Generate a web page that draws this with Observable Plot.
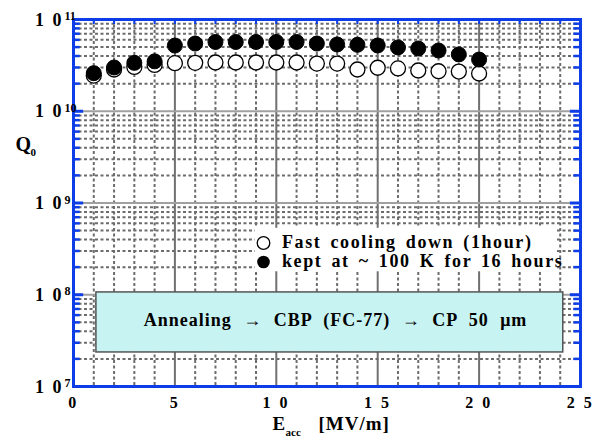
<!DOCTYPE html>
<html>
<head>
<meta charset="utf-8">
<script src="https://cdn.jsdelivr.net/npm/d3@7"></script>
<script src="https://cdn.jsdelivr.net/npm/@observablehq/plot@0.6"></script>
<style>
  html, body { margin: 0; padding: 0; background: #fff; }
  #chart svg { display: block; }
  #chart svg text { font-family: "Liberation Serif", "Times New Roman", "DejaVu Serif", serif !important; font-weight: bold; }
</style>
</head>
<body>
<div id="chart"></div>
<script>
// ---- data ----
const fieldMVm = [1, 2, 3, 4, 5, 6, 7, 8, 9, 10, 11, 12, 13, 14, 15, 16, 17, 18, 19, 20];
const q0FastCooling = [2.45e10, 2.85e10, 3.04e10, 3.2e10, 3.34e10, 3.37e10, 3.4e10, 3.4e10, 3.4e10, 3.4e10,
                       3.4e10, 3.31e10, 3.31e10, 2.85e10, 2.98e10, 2.93e10, 2.78e10, 2.73e10, 2.71e10, 2.58e10];
const q0Kept100K = [2.6e10, 3.0e10, 3.37e10, 3.5e10, 5.2e10, 5.47e10, 5.69e10, 5.69e10, 5.69e10, 5.69e10,
                    5.69e10, 5.47e10, 5.34e10, 5.3e10, 5.21e10, 4.96e10, 4.83e10, 4.59e10, 4.16e10, 3.66e10];
const seriesLabels = ["Fast cooling down (1hour)", "kept at ~ 100 K for 16 hours"];
const xTickValues = [0, 5, 10, 15, 20, 25];
const xTickLabels = ["0", "5", "1 0", "1 5", "2 0", "2 5"];
const xMinorValues = d3.range(1, 25).filter(v => v % 5 !== 0);
const yTickValues = [1e7, 1e8, 1e9, 1e10, 1e11];
const yTickExponents = ["7", "8", "9", "10", "11"];
const yMinorValues = [7, 8, 9, 10].flatMap(e => d3.range(2, 10).map(k => k * 10 ** e));
const annotationText = "Annealing \u2192 CBP (FC-77) \u2192 CP 50 \u03bcm";
const legendBox = {x1: 8.97, x2: 23.85, y1: 1.78e8, y2: 5.3e8};
const noteBox = {x1: 1.13, x2: 24.15, y1: 2.35e7, y2: 1.06e8};

// ---- table ----
const fast = fieldMVm.map((x, i) => ({x, q: q0FastCooling[i]}));
const kept = fieldMVm.map((x, i) => ({x, q: q0Kept100K[i]}));

const BLUE = "#0c3de6";
const FONT = "Liberation Serif";
const txt = {fontFamily: FONT, fontWeight: "bold", fill: "#000"};

const chart = Plot.plot({
  width: 605,
  height: 437,
  marginLeft: 73,
  marginRight: 25,
  marginTop: 19,
  marginBottom: 51,
  style: {fontFamily: FONT, background: "#fff", overflow: "visible"},
  x: {domain: [0, 25], axis: null},
  y: {type: "log", domain: [1e7, 1e11], axis: null},
  marks: [
    // minor grid
    Plot.ruleX(xMinorValues, {x: d => d, stroke: "#6c6c6c", strokeWidth: 2, strokeDasharray: "3,2.5"}),
    Plot.ruleY(yMinorValues, {y: d => d, stroke: "#6c6c6c", strokeWidth: 2, strokeDasharray: "3,2.5"}),
    // major grid
    Plot.ruleX([5, 10, 15, 20], {x: d => d, stroke: "#707070", strokeWidth: 2}),
    Plot.ruleY([1e8, 1e9, 1e10], {y: d => d, stroke: "#a0a0a0", strokeWidth: 2}),
    // legend background
    Plot.rect([legendBox], {x1: "x1", x2: "x2", y1: "y1", y2: "y2", fill: "#fff"}),
    // annotation box
    Plot.rect([noteBox], {x1: "x1", x2: "x2", y1: "y1", y2: "y2", fill: "#c8f3f3", stroke: "#555", strokeWidth: 1.5}),
    Plot.text([annotationText], {text: d => d, frameAnchor: "top-left", dx: 262, dy: 306, lineAnchor: "bottom",
      textAnchor: "middle", fontSize: 18, className: "note", ...txt}),
    // inward ticks (left/right blue)
    Plot.ruleY(yTickValues, {y: d => d, x1: 0, x2: 0.5, stroke: BLUE, strokeWidth: 3}),
    Plot.ruleY(yMinorValues, {y: d => d, x1: 0, x2: 0.33, stroke: BLUE, strokeWidth: 2.5}),
    Plot.ruleY(yTickValues, {y: d => d, x1: 24.5, x2: 25, stroke: BLUE, strokeWidth: 3}),
    Plot.ruleY(yMinorValues, {y: d => d, x1: 24.67, x2: 25, stroke: BLUE, strokeWidth: 2.5}),
    // top ticks
    Plot.ruleX(d3.range(1, 25), {x: d => d, y1: 1e11, y2: 10 ** (11 - 5 / 91.75), stroke: BLUE, strokeWidth: 2}),
    // data
    Plot.dot(fast, {x: "x", y: "q", r: 7.5, fill: "#fff", stroke: "#000", strokeWidth: 1.3}),
    Plot.dot(kept, {x: "x", y: "q", r: 7.5, fill: "#000", stroke: "#000", strokeWidth: 1}),
    // legend
    Plot.dot([0], {frameAnchor: "top-left", dx: 190, dy: 223.5, r: 6.3, fill: "#fff", stroke: "#000", strokeWidth: 1.3}),
    Plot.dot([0], {frameAnchor: "top-left", dx: 190, dy: 242.5, r: 6.3, fill: "#000"}),
    Plot.text([seriesLabels[0]], {text: d => d, frameAnchor: "top-left", dx: 208.5, dy: 228, lineAnchor: "bottom",
      textAnchor: "start", fontSize: 18, className: "leg", ...txt}),
    Plot.text([seriesLabels[1]], {text: d => d, frameAnchor: "top-left", dx: 208.5, dy: 247.5, lineAnchor: "bottom",
      textAnchor: "start", fontSize: 18, className: "leg", ...txt}),
    // frame
    Plot.frame({stroke: BLUE, strokeWidth: 3}),
    // x tick labels
    Plot.text(xTickLabels, {x: (d, i) => xTickValues[i], text: d => d, frameAnchor: "bottom", dy: 21,
      lineAnchor: "bottom", fontSize: 16, className: "xtick", ...txt}),
    // y tick labels: mantissa + exponent
    Plot.text(yTickValues, {y: d => d, text: () => "1 0", frameAnchor: "left", dx: -10, dy: 6,
      lineAnchor: "bottom", textAnchor: "end", fontSize: 18, className: "ytick", ...txt}),
    Plot.text(yTickValues, {y: d => d, text: (d, i) => yTickExponents[i], frameAnchor: "left", dx: -9, dy: 0.5,
      lineAnchor: "bottom", textAnchor: "start", fontSize: 12, ...txt}),
    // axis titles
    Plot.text(["Q"], {text: d => d, frameAnchor: "top-left", dx: -58, dy: 131, lineAnchor: "bottom",
      textAnchor: "start", fontSize: 20, ...txt}),
    Plot.text(["0"], {text: d => d, frameAnchor: "top-left", dx: -43, dy: 136, lineAnchor: "bottom",
      textAnchor: "start", fontSize: 11, ...txt}),
    Plot.text(["E"], {text: d => d, frameAnchor: "bottom-left", dx: 199, dy: 43, lineAnchor: "bottom",
      textAnchor: "start", fontSize: 19, ...txt}),
    Plot.text(["acc"], {text: d => d, frameAnchor: "bottom-left", dx: 212, dy: 49, lineAnchor: "bottom",
      textAnchor: "start", fontSize: 11, ...txt}),
    Plot.text(["[MV/m]"], {text: d => d, frameAnchor: "bottom-left", dx: 245, dy: 43, lineAnchor: "bottom",
      textAnchor: "start", fontSize: 19, className: "unit", ...txt})
  ]
});

const svg = d3.select(chart);
svg.selectAll(".leg text, text.leg, g.leg text").style("letter-spacing", "1.6px").style("word-spacing", "3px");
svg.selectAll(".note text, g.note text").style("letter-spacing", "1px").style("word-spacing", "6px");
svg.selectAll(".xtick text, g.xtick text").style("letter-spacing", "2.5px");
svg.selectAll(".ytick text, g.ytick text").style("letter-spacing", "2px");
svg.selectAll(".unit text, g.unit text").style("letter-spacing", "1px");
document.getElementById("chart").appendChild(chart);
</script>
</body>
</html>
